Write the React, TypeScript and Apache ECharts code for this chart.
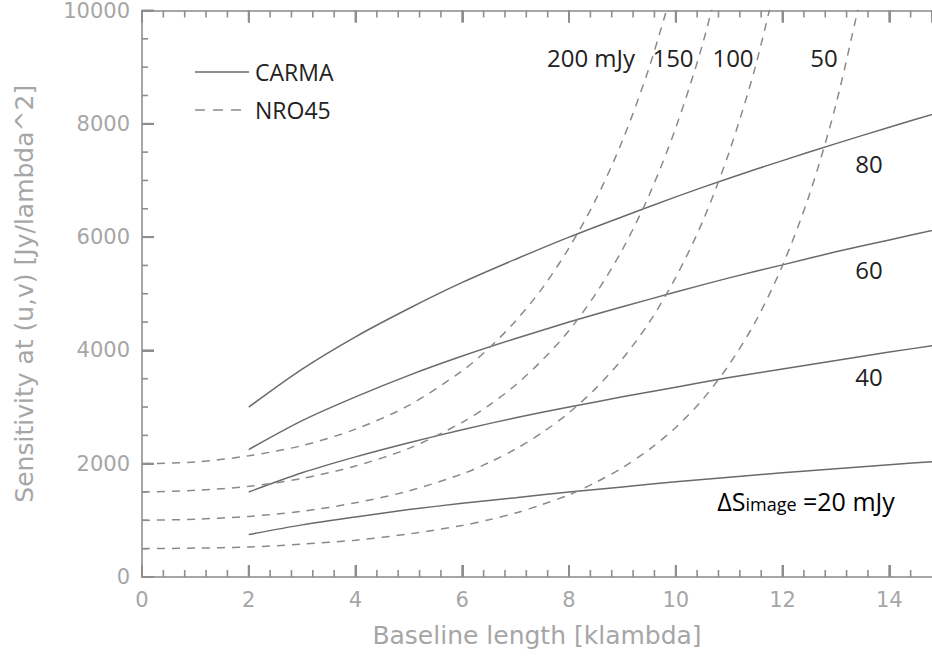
import React, { useEffect, useRef } from "react";
import * as echarts from "echarts";

// CARMA sensitivity curves (solid), x = baseline length [klambda]
const carmaX = [2, 3, 4, 5, 6, 7, 8, 9, 10, 11, 12, 13, 14, 15];
const carma20 = [750, 920, 1060, 1190, 1300, 1400, 1500, 1590, 1680, 1760, 1840, 1910, 1980, 2050];
const carma40 = [1500, 1840, 2120, 2370, 2600, 2810, 3000, 3180, 3350, 3520, 3670, 3820, 3970, 4110];
const carma60 = [2250, 2760, 3180, 3560, 3900, 4210, 4500, 4770, 5030, 5280, 5510, 5740, 5950, 6160];
const carma80 = [3000, 3670, 4240, 4740, 5200, 5610, 6000, 6360, 6710, 7040, 7350, 7650, 7940, 8220];

// NRO45 sensitivity curves (dashed)
const nroX = [0, 1, 2, 3, 4, 5, 6, 6.5, 7, 7.5, 8, 8.5, 9, 9.5, 10, 10.5, 11, 11.5, 12, 12.5, 13, 13.5];
const nro50 = [500, 510, 530, 580, 650, 760, 910, 1010, 1130, 1280, 1450, 1670, 1930, 2250, 2640, 3130, 3750, 4520, 5500, 6740, 8340, 10400];
const nro100 = [1000, 1020, 1070, 1160, 1310, 1520, 1820, 2020, 2260, 2550, 2900, 3330, 3850, 4490, 5290, 6270, 7500, 9040, 11000];
const nro150 = [1500, 1530, 1600, 1740, 1960, 2270, 2730, 3030, 3390, 3830, 4350, 5000, 5780, 6740, 7930, 9400, 11250];
const nro200 = [2000, 2030, 2140, 2320, 2610, 3030, 3640, 4040, 4520, 5100, 5810, 6660, 7700, 8990, 10570];

const curveLabels = ["200 mJy", "150", "100", "50", "80", "60", "40"];
const legendNames = ["CARMA", "NRO45"];

// axis ranges
const X_MIN = 0, X_MAX = 14.8, X_STEP = 2, X_MINOR = 5;
const Y_MIN = 0, Y_MAX = 10000, Y_STEP = 2000, Y_MINOR = 4;

const AXIS_COLOR = "#a6a6a6";
const TICK_COLOR = "#8e8e8e";
const AXIS_FONT = "DejaVu Sans";
const NOTE_FONT = "Open Sans";
const SOLID_COLOR = "#6a6a6a";
const DASH_COLOR = "#8a8a8a";
const DASH = [8, 7];

function pairs(xs: number[], ys: number[]) {
  return ys.map((y, i) => [xs[i], y]);
}

function tickValues(min: number, max: number, step: number, minorSplit: number) {
  const major: number[] = [];
  const minor: number[] = [];
  for (let v = min; v <= max + 1e-9; v += step) {
    major.push(v);
    for (let k = 1; k < minorSplit; k++) {
      const m = v + (step * k) / minorSplit;
      if (m < max - 1e-9) minor.push(m);
    }
  }
  return { major, minor };
}

export default function App() {
  const ref = useRef<HTMLDivElement>(null);

  useEffect(() => {
    document.body.style.margin = "0";
    if (!ref.current) return;
    const chart = echarts.init(ref.current, undefined, { renderer: "svg" });

    const solid = (d: number[]) => ({
      name: legendNames[0],
      type: "line",
      data: pairs(carmaX, d),
      symbol: "none",
      smooth: 0.3,
      lineStyle: { color: SOLID_COLOR, width: 1.5, type: "solid" },
      clip: true,
    });
    const dashed = (d: number[]) => ({
      name: legendNames[1],
      type: "line",
      data: pairs(nroX, d),
      symbol: "none",
      smooth: 0.3,
      lineStyle: { color: DASH_COLOR, width: 1.5, type: DASH },
      clip: true,
    });

    const note = (text: string, x: number, y: number) => ({
      type: "text",
      x,
      y,
      silent: true,
      style: {
        text,
        fill: "#222",
        font: `24px "${NOTE_FONT}"`,
        textAlign: "center",
        textVerticalAlign: "middle",
      },
    });

    // tick table: [value, axis (0 = x, 1 = y), major (1) / minor (0)]
    const xt = tickValues(X_MIN, X_MAX, X_STEP, X_MINOR);
    const yt = tickValues(Y_MIN, Y_MAX, Y_STEP, Y_MINOR);
    const tickData: number[][] = [
      ...xt.major.map((v) => [v, 0, 1]),
      ...xt.minor.map((v) => [v, 0, 0]),
      ...yt.major.map((v) => [v, 1, 1]),
      ...yt.minor.map((v) => [v, 1, 0]),
    ];

    const tickSeries = {
      type: "custom",
      name: "ticks",
      silent: true,
      clip: false,
      z: 20,
      data: tickData,
      encode: { x: 0 },
      renderItem: (params: any, api: any) => {
        const v = api.value(0);
        const ax = api.value(1);
        const major = api.value(2) === 1;
        const len = major ? 12 : 7;
        const w = major ? 2 : 1.6;
        const style = { stroke: TICK_COLOR, lineWidth: w, fill: "none" };
        if (ax === 0) {
          const b = api.coord([v, Y_MIN]);
          const t = api.coord([v, Y_MAX]);
          return {
            type: "group",
            children: [
              { type: "line", shape: { x1: b[0], y1: b[1], x2: b[0], y2: b[1] - len }, style },
              { type: "line", shape: { x1: t[0], y1: t[1], x2: t[0], y2: t[1] + len }, style },
            ],
          };
        }
        const l = api.coord([X_MIN, v]);
        const ylen = major ? 12 : 6;
        return { type: "line", shape: { x1: l[0], y1: l[1], x2: l[0] + ylen, y2: l[1] }, style };
      },
    };

    const labelFmt = (v: number) => String(v);
    const tickCfg = { show: true, inside: true, length: 12, lineStyle: { color: TICK_COLOR, width: 2 } };

    chart.setOption({
      animation: false,
      backgroundColor: "#ffffff",
      grid: { left: 142, right: 0, top: 9, bottom: 79, containLabel: false },
      xAxis: [
        {
          type: "value",
          position: "bottom",
          min: X_MIN,
          max: X_MAX,
          interval: X_STEP,
          splitLine: { show: false },
          axisLine: { show: true, onZero: false, lineStyle: { color: AXIS_COLOR, width: 2 } },
          name: "Baseline length [klambda]",
          nameLocation: "middle",
          nameGap: 46,
          nameTextStyle: { color: AXIS_COLOR, fontSize: 25, fontFamily: AXIS_FONT },
          axisTick: tickCfg,
          axisLabel: { color: AXIS_COLOR, fontSize: 21, fontFamily: AXIS_FONT, margin: 12, showMaxLabel: false, formatter: labelFmt },
        },
        {
          type: "value",
          position: "top",
          min: X_MIN,
          max: X_MAX,
          interval: X_STEP,
          splitLine: { show: false },
          axisLine: { show: true, onZero: false, lineStyle: { color: AXIS_COLOR, width: 2 } },
          axisTick: tickCfg,
          axisLabel: { show: false },
        },
      ],
      yAxis: {
        type: "value",
        min: Y_MIN,
        max: Y_MAX,
        interval: Y_STEP,
        splitLine: { show: false },
        axisLine: { show: true, onZero: false, lineStyle: { color: AXIS_COLOR, width: 2 } },
        name: "Sensitivity at (u,v) [Jy/lambda^2]",
        nameLocation: "middle",
        nameGap: 105,
        nameTextStyle: { color: AXIS_COLOR, fontSize: 25, fontFamily: AXIS_FONT },
        axisTick: tickCfg,
        axisLabel: { color: AXIS_COLOR, fontSize: 21, fontFamily: AXIS_FONT, margin: 12, formatter: labelFmt },
      },
      series: [
        solid(carma20),
        solid(carma40),
        solid(carma60),
        solid(carma80),
        dashed(nro50),
        dashed(nro100),
        dashed(nro150),
        dashed(nro200),
        tickSeries,
      ],
      graphic: [
        { type: "line", silent: true, shape: { x1: 195, y1: 72, x2: 249, y2: 72 }, style: { stroke: SOLID_COLOR, lineWidth: 1.5 } },
        { type: "line", silent: true, shape: { x1: 195, y1: 110, x2: 249, y2: 110 }, style: { stroke: DASH_COLOR, lineWidth: 1.5, lineDash: [10, 8] } },
        { type: "text", x: 255, y: 72, silent: true, style: { text: legendNames[0], fill: "#222", font: `23px "${NOTE_FONT}"`, textVerticalAlign: "middle" } },
        { type: "text", x: 255, y: 110, silent: true, style: { text: legendNames[1], fill: "#222", font: `23px "${NOTE_FONT}"`, textVerticalAlign: "middle" } },
        note(curveLabels[0], 591, 57),
        note(curveLabels[1], 673, 57),
        note(curveLabels[2], 733, 57),
        note(curveLabels[3], 824, 57),
        note(curveLabels[4], 869, 163),
        note(curveLabels[5], 869, 269),
        note(curveLabels[6], 869, 376),
        {
          type: "text",
          x: 806,
          y: 499,
          silent: true,
          style: {
            text: "{a|ΔS}{b|image}{a| =20 mJy}",
            textAlign: "center",
            textVerticalAlign: "middle",
            rich: {
              a: { fontSize: 25, fontFamily: NOTE_FONT, color: "#222", lineHeight: 28, verticalAlign: "bottom" },
              b: { fontSize: 18, fontFamily: NOTE_FONT, color: "#222", lineHeight: 28, verticalAlign: "bottom" },
            },
          },
        },
      ],
    });

    return () => chart.dispose();
  }, []);

  return <div ref={ref} style={{ width: 932, height: 656 }} />;
}
